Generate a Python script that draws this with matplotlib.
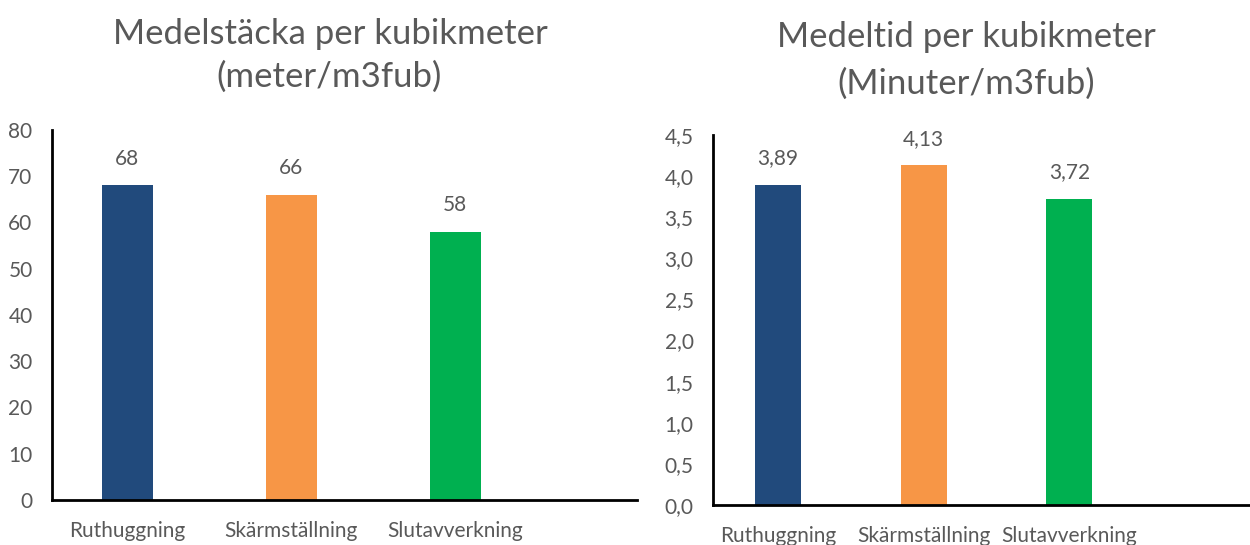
import matplotlib.pyplot as plt
from matplotlib.ticker import FuncFormatter

categories = ['Ruthuggning', 'Skärmställning', 'Slutavverkning']
meter_per_m3 = [68, 66, 58]
minutes_per_m3 = [3.89, 4.13, 3.72]
colors = ['#214a7c', '#f79646', '#00b050']

grey = '#595959'
plt.rcParams['font.family'] = ['Lato', 'DejaVu Sans']

fig = plt.figure(figsize=(12.5, 5.45), dpi=100)

ax1 = fig.add_axes([0.0416, 0.0826, 0.5096 - 0.0416, 0.7615 - 0.0826])
ax2 = fig.add_axes([0.5704, 0.0734, 1.0 - 0.5704, 0.7523 - 0.0734])


def style(ax, xlim, ylim, yticks, fmt):
    ax.set_xlim(*xlim)
    ax.set_ylim(*ylim)
    ax.set_yticks(yticks)
    ax.yaxis.set_major_formatter(FuncFormatter(fmt))
    ax.set_xticks(range(len(categories)))
    ax.set_xticklabels(categories)
    for s in ['top', 'right']:
        ax.spines[s].set_visible(False)
    for s in ['left', 'bottom']:
        ax.spines[s].set_linewidth(2)
        ax.spines[s].set_color('black')
    ax.tick_params(length=0, labelsize=15, labelcolor=grey)
    ax.tick_params(axis='y', pad=14)
    ax.tick_params(axis='x', pad=15, labelsize=15)
    ax.patch.set_alpha(0)


# left chart
ax1.bar(range(3), meter_per_m3, width=0.31, color=colors)
for i, v in enumerate(meter_per_m3):
    ax1.annotate(str(v), (i, v), xytext=(0, 12), textcoords='offset points',
                 ha='center', va='bottom', fontsize=15, color=grey)
style(ax1, (-0.46, 3.11), (0, 80), range(0, 81, 10), lambda v, p: f'{v:.0f}')
fig.text(0.264, 0.919, 'Medelstäcka per kubikmeter', ha='center',
         va='baseline', fontsize=25, color=grey)
fig.text(0.263, 0.840, '(meter/m3fub)', ha='center',
         va='baseline', fontsize=25, color=grey)

# right chart
ax2.bar(range(3), minutes_per_m3, width=0.315, color=colors)
for i, v in enumerate(minutes_per_m3):
    ax2.annotate(f'{v:.2f}'.replace('.', ','), (i, v), xytext=(0, 12),
                 textcoords='offset points', ha='center', va='bottom',
                 fontsize=15, color=grey)
style(ax2, (-0.446, 3.24), (0, 4.5), [i * 0.5 for i in range(10)],
      lambda v, p: f'{v:.1f}'.replace('.', ','))
fig.text(0.773, 0.914, 'Medeltid per kubikmeter', ha='center',
         va='baseline', fontsize=25, color=grey)
fig.text(0.773, 0.828, '(Minuter/m3fub)', ha='center',
         va='baseline', fontsize=25, color=grey)

plt.savefig('out.png', dpi=100)
